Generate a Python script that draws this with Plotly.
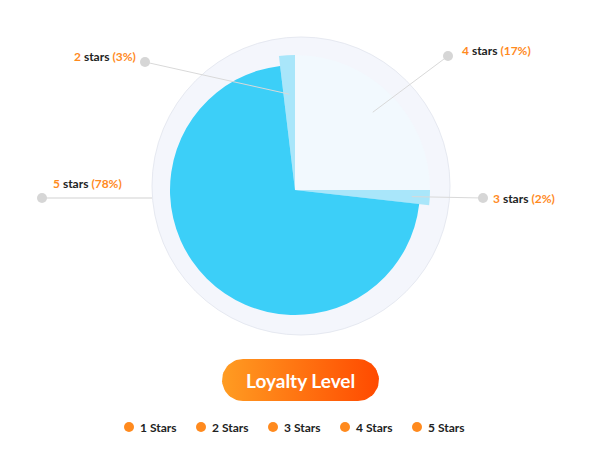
import numpy as np
import plotly.graph_objects as go

# data
categories = ["1 Stars", "2 Stars", "3 Stars", "4 Stars", "5 Stars"]
stars = [1, 2, 3, 4, 5]
slice_share = [0, 1.9, 1.8, 25.0, 71.3]   # share of the circle each slice takes
label_pct = [0, 3, 2, 17, 78]             # percentages printed on the labels
draw_order = ["4 Stars", "3 Stars", "5 Stars", "2 Stars", "1 Stars"]

W, H = 600, 450
OFF = 8                    # page body margin, everything lands 8px lower/right
CX, CY = 295, 190          # pie centre in screen pixels
R_OUT, R_IN = 135, 125     # the big slice is drawn a bit smaller
ORANGE = "#ff8a1e"


def px(x):
    return (x - OFF) / W


def py(y):
    return 1 - (y - OFF) / H


def pie_domain(r):
    return dict(x=[px(CX - r), px(CX + r)], y=[py(CY + r), py(CY - r)])


vals = [slice_share[categories.index(c)] for c in draw_order]
outer_colors = {"1 Stars": "rgba(0,0,0,0)", "2 Stars": "#a9e6fa", "3 Stars": "#a9e6fa",
                "4 Stars": "#f2f9fe", "5 Stars": "rgba(0,0,0,0)"}
inner_colors = {c: "rgba(0,0,0,0)" for c in categories}
inner_colors["5 Stars"] = "#3ccff8"

fig = go.Figure()

# pill behind the title, gradient filled
t = np.linspace(np.pi / 2, 3 * np.pi / 2, 30)
pill_x = np.concatenate([243 + 21 * np.cos(t), 358 - 21 * np.cos(t)])
pill_y = np.concatenate([380 - 21 * np.sin(t), 380 + 21 * np.sin(t)])
fig.add_trace(go.Scatter(
    x=pill_x, y=pill_y, fill="toself", mode="lines", line=dict(width=0),
    fillgradient=dict(type="horizontal", colorscale=[[0, "#ff9c22"], [1, "#ff4a00"]]),
    hoverinfo="skip", showlegend=False))

fig.add_trace(go.Pie(
    labels=draw_order, values=vals, sort=False, direction="clockwise",
    marker=dict(colors=[outer_colors[c] for c in draw_order], line=dict(width=0)),
    textinfo="none", hoverinfo="skip", showlegend=False, domain=pie_domain(R_OUT)))
fig.add_trace(go.Pie(
    labels=draw_order, values=vals, sort=False, direction="clockwise",
    marker=dict(colors=[inner_colors[c] for c in draw_order], line=dict(width=0)),
    textinfo="none", hoverinfo="skip", showlegend=False, domain=pie_domain(R_IN)))

# mid angle of every slice, clockwise from 12 o'clock
v = np.array(vals)
mid_deg = dict(zip(draw_order, (np.cumsum(v) - v / 2) * 3.6))

shapes = [dict(type="circle", xref="x", yref="y", x0=152, x1=450, y0=37, y1=335,
               fillcolor="#f4f6fc", line=dict(color="#e6e9f1", width=1), layer="below")]

# label layout: dot position, how deep the leader goes, label anchor
callouts = {
    "2 Stars": dict(dot=(145, 62), depth=96, text=(138, 56), anchor="right"),
    "4 Stars": dict(dot=(448, 56), depth=110, text=(460, 50), anchor="left"),
    "3 Stars": dict(dot=(483, 198), depth=117, text=(491, 198), anchor="left"),
    "5 Stars": dict(dot=(42, 198), depth=None, text=(51, 183), anchor="left"),
}

annotations = []
for c, cfg in callouts.items():
    dx, dy = cfg["dot"]
    if cfg["depth"] is None:
        ex, ey = 152, dy
        shapes.append(dict(type="line", xref="x", yref="y", x0=dx, y0=dy, x1=ex, y1=ey,
                           line=dict(color="#e8e8e8", width=2), layer="below"))
    else:
        a = np.deg2rad(mid_deg[c])
        ex, ey = CX + cfg["depth"] * np.sin(a), CY - cfg["depth"] * np.cos(a)
        shapes.append(dict(type="line", xref="x", yref="y", x0=dx, y0=dy, x1=ex, y1=ey,
                           line=dict(color="#d9d9d9", width=1)))
    shapes.append(dict(type="circle", xref="x", yref="y", x0=dx - 5, x1=dx + 5,
                       y0=dy - 5, y1=dy + 5, fillcolor="#d6d6d6", line=dict(width=0)))
    i = categories.index(c)
    tx, ty = cfg["text"]
    annotations.append(dict(
        x=tx, y=ty, xref="x", yref="y", xanchor=cfg["anchor"], yanchor="middle",
        showarrow=False, font=dict(family="Lato", size=12, color="#222222", weight="bold"),
        text=f"<span style='color:{ORANGE}'>{stars[i]}</span> stars "
             f"<span style='color:{ORANGE}'>({label_pct[i]}%)</span>"))

annotations.append(dict(x=300.5, y=380, xref="x", yref="y", showarrow=False,
                        text="Loyalty Level",
                        font=dict(family="Lato", size=19, color="white", weight="bold")))

# legend row along the bottom: orange dot + name
for i, c in enumerate(categories):
    lx, ly = 129 + 72 * i, 427
    shapes.append(dict(type="circle", xref="x", yref="y", x0=lx - 5, x1=lx + 5,
                       y0=ly - 5, y1=ly + 5, fillcolor=ORANGE, line=dict(width=0)))
    annotations.append(dict(x=lx + 9, y=ly, xref="x", yref="y", xanchor="left",
                            yanchor="middle", showarrow=False, text=c,
                            font=dict(family="Lato", size=12, color="#222222",
                                      weight="bold")))

fig.update_layout(
    width=W, height=H, margin=dict(l=0, r=0, t=0, b=0),
    paper_bgcolor="white", plot_bgcolor="white",
    # axis in screen pixels, used for the decorations
    xaxis=dict(range=[OFF, W + OFF], visible=False, fixedrange=True, domain=[0, 1]),
    yaxis=dict(range=[H + OFF, OFF], visible=False, fixedrange=True, domain=[0, 1]),
    shapes=shapes, annotations=annotations,
    showlegend=False,
)

fig.write_html("out.html")
